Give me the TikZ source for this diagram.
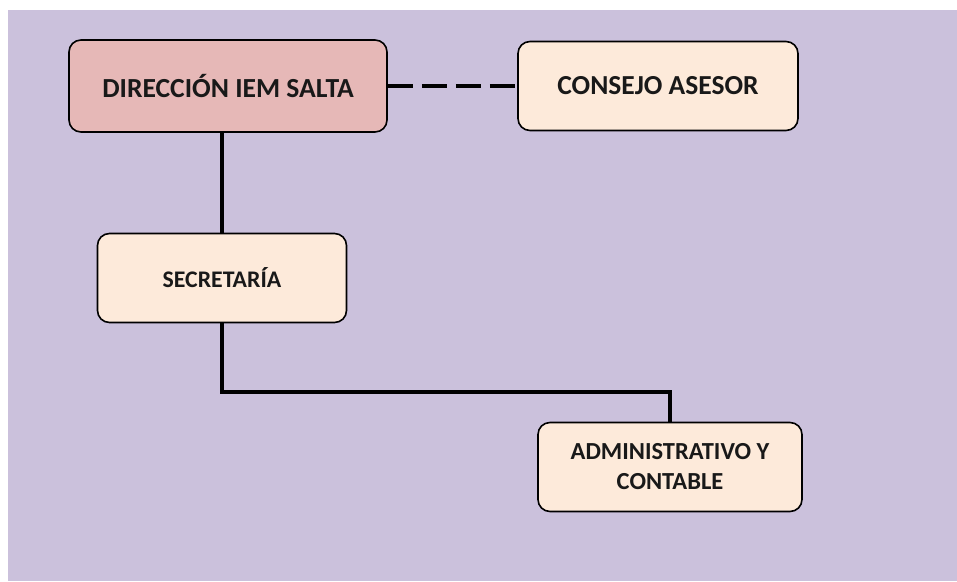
\documentclass[tikz,border=0pt]{standalone}
\usepackage{fontspec}
\setmainfont{Carlito}
\usepackage{tikz}

\definecolor{fondo}{HTML}{CBC1DC}
\definecolor{rosa}{HTML}{E6B8B7}
\definecolor{crema}{HTML}{FDEADA}

\begin{document}
\begin{tikzpicture}[x=1pt,y=-1pt,
  caja/.style={draw=black,line width=1.6pt,rounded corners=12pt,fill=crema,
    align=center,font=\bfseries,text=black!90},
  linea/.style={line width=4pt}]
\useasboundingbox (0,0) rectangle (957,581);
\fill[fondo] (8,10) rectangle (957,581);
\node[caja,fill=rosa,minimum width=318pt,minimum height=92pt,font=\bfseries\fontsize{27.6}{30}\selectfont] (dir) at (228,86) {DIRECCIÓN IEM SALTA};
\node[caja,minimum width=280pt,minimum height=89pt,font=\bfseries\fontsize{27.5}{30}\selectfont] (cons) at (658,86) {CONSEJO ASESOR};
\node[caja,minimum width=249pt,minimum height=89pt,font=\bfseries\fontsize{23.8}{26}\selectfont] (sec) at (222,278) {SECRETARÍA};
\node[caja,minimum width=264pt,minimum height=89pt,font=\bfseries\fontsize{24.5}{30}\selectfont] (adm) at (670,467) {ADMINISTRATIVO Y\\CONTABLE};
\coordinate (bus) at (445,392);
\draw[linea,dash pattern=on 25pt off 9pt] (dir.east) -- (cons.west);
\draw[linea] (dir.south -| sec.north) -- (sec.north);
\draw[linea] (sec.south) |- (bus) -| (adm.north);
\end{tikzpicture}
\end{document}
